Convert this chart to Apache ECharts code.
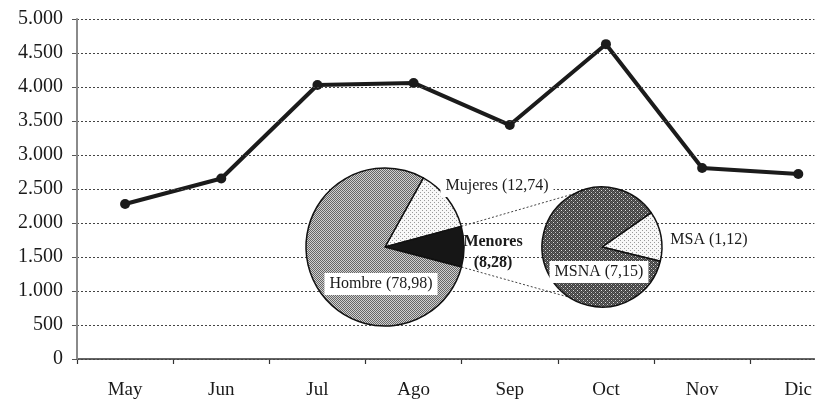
<!DOCTYPE html>
<html><head><meta charset="utf-8">
<script src="https://cdn.jsdelivr.net/npm/echarts@6/dist/echarts.min.js"></script>
<style>html,body{margin:0;padding:0;background:#fff}#c{width:815px;height:400px}</style>
</head><body><div id="c"></div>
<script>
// ---- data ----
const months = ['May','Jun','Jul','Ago','Sep','Oct','Nov','Dic'];
const totals = [2280, 2655, 4030, 4060, 3440, 4630, 2810, 2720];
const yMin = 0, yMax = 5000, yStep = 500;
const mainPieNames = ['Mujeres', 'Menores', 'Hombre'];
const mainPieValues = [12.74, 8.28, 78.98];
const subPieNames = ['MSA', 'MSNA'];
const subPieValues = [1.12, 7.15];

// ---- layout ----
const FONT = '"Liberation Serif", "Times New Roman", serif';
const bigC = [385, 247], bigR = 79, bigStart = 61;
const smallC = [602, 247], smallR = 60, smallStart = 35;
const plotLeft = 77, catWidth = 96.25;
const xMaxV = (815 - plotLeft) / catWidth;   // category slots; slot i spans [i, i+1]

function pattern(size, fn) {
  const cv = document.createElement('canvas');
  cv.width = size; cv.height = size;
  const ctx = cv.getContext('2d');
  fn(ctx, size);
  return { image: cv, repeat: 'repeat' };
}
function px(ctx, x, y, c) { ctx.fillStyle = c; ctx.fillRect(x, y, 1, 1); }

const patHombre = pattern(4, (ctx, s) => {
  ctx.fillStyle = '#d0d0d0'; ctx.fillRect(0, 0, s, s);
  for (let y = 0; y < s; y++) for (let x = 0; x < s; x++)
    if ((x + y) % 2 === 0) px(ctx, x, y, '#666');
});
const patLight = pattern(4, (ctx, s) => {
  ctx.fillStyle = '#f8f8f8'; ctx.fillRect(0, 0, s, s);
  px(ctx, 0, 0, '#9a9a9a'); px(ctx, 2, 2, '#9a9a9a');
});
const patDark = pattern(4, (ctx, s) => {
  ctx.fillStyle = '#666'; ctx.fillRect(0, 0, s, s);
  for (let y = 0; y < s; y++) for (let x = 0; x < s; x++)
    if ((x + y) % 2 === 0) px(ctx, x, y, '#3c3c3c');
  px(ctx, 1, 2, '#e0e0e0'); px(ctx, 3, 0, '#c8c8c8');
});
const patBlack = '#161616';

function fmtNum(v) {
  return v >= 1000 ? Math.floor(v / 1000) + '.' + String(v % 1000).padStart(3, '0') : String(v);
}
function fmtPct(v) { return v.toFixed(2).replace('.', ','); }

const mainFills = [patLight, patBlack, patHombre];
const subFills = [patLight, patDark];

// label anchor offsets from each pie centre
const mainLabelOff = [[112, -61], [108, 5], [-4, 37]];
const subLabelOff = [[107, -7], [-3, 25]];

const baseLabel = {
  show: true, fontFamily: FONT, fontSize: 16, color: '#1a1a1a',
  backgroundColor: '#fff', padding: [3, 5]
};

const mainData = mainPieNames.map((n, i) => ({
  name: n, value: mainPieValues[i],
  itemStyle: { color: mainFills[i] },
  label: n === 'Menores'
    ? Object.assign({}, baseLabel, { backgroundColor: 'transparent', fontWeight: 'bold', fontSize: 16, lineHeight: 21, padding: 0,
        formatter: p => p.name + '\n(' + fmtPct(p.value) + ')' })
    : Object.assign({}, baseLabel, { formatter: p => p.name + ' (' + fmtPct(p.value) + ')' })
}));
const subData = subPieNames.map((n, i) => ({
  name: n, value: subPieValues[i],
  itemStyle: { color: subFills[i] },
  label: Object.assign({}, baseLabel, { formatter: p => p.name + ' (' + fmtPct(p.value) + ')' })
}));

// connector lines from the "Menores" slice edges to the sub pie
const totMain = mainPieValues.reduce((a, b) => a + b, 0);
const aTop = bigStart - mainPieValues[0] / totMain * 360;
const aBot = aTop - mainPieValues[1] / totMain * 360;
function pt(c, r, deg) { const a = deg * Math.PI / 180; return [c[0] + r * Math.cos(a), c[1] - r * Math.sin(a)]; }
const p1 = pt(bigC, bigR, aTop), p2 = pt(smallC, smallR, 117);
const p3 = pt(bigC, bigR, aBot), p4 = pt(smallC, smallR, 237);

const tickVals = months.map((m, i) => i);
const labelVals = months.map((m, i) => i + 0.5);

const chart = echarts.init(document.getElementById('c'), null, { renderer: 'canvas' });
chart.setOption({
  animation: false,
  backgroundColor: '#fff',
  grid: { left: plotLeft, top: 19, bottom: 41, right: 0 },
  xAxis: {
    type: 'value', min: 0, max: xMaxV,
    axisLine: { lineStyle: { color: '#333', width: 1.5 } },
    axisTick: { show: true, inside: false, length: 5, customValues: tickVals, lineStyle: { color: '#333', width: 1.2 } },
    axisLabel: { fontFamily: FONT, fontSize: 19, color: '#1a1a1a', margin: 22, customValues: labelVals,
      formatter: v => months[Math.floor(v)] || '' },
    splitLine: { show: false }
  },
  yAxis: {
    type: 'value', min: yMin, max: yMax, interval: yStep, z: 3,
    axisLine: { show: true, lineStyle: { color: '#888', width: 2 } },
    axisTick: { show: true, length: 5, lineStyle: { color: '#555' } },
    axisLabel: { fontFamily: FONT, fontSize: 20, color: '#1a1a1a', margin: 14, formatter: fmtNum },
    splitLine: { show: true, lineStyle: { color: '#444', type: [2, 2], width: 1 } }
  },
  series: [
    {
      type: 'line', data: totals.map((v, i) => [i + 0.5, v]), z: 2,
      lineStyle: { color: '#1b1b1b', width: 4 },
      itemStyle: { color: '#1b1b1b' },
      symbol: 'circle', symbolSize: 10, showSymbol: true
    },
    {
      type: 'pie', center: bigC, radius: bigR, startAngle: bigStart, clockwise: true,
      z: 5, silent: true, data: mainData,
      itemStyle: { borderColor: '#111', borderWidth: 1.5 },
      labelLine: { show: false },
      labelLayout: p => {
        const o = mainLabelOff[p.dataIndex];
        return { x: bigC[0] + o[0], y: bigC[1] + o[1], align: 'center', verticalAlign: 'middle' };
      }
    },
    {
      type: 'pie', center: smallC, radius: smallR, startAngle: smallStart, clockwise: true,
      z: 5, silent: true, data: subData,
      itemStyle: { borderColor: '#111', borderWidth: 1.5 },
      labelLine: { show: false },
      labelLayout: p => {
        const o = subLabelOff[p.dataIndex];
        return { x: smallC[0] + o[0], y: smallC[1] + o[1], align: 'center', verticalAlign: 'middle' };
      }
    }
  ],
  graphic: [
    { type: 'line', z: 4, shape: { x1: p1[0], y1: p1[1], x2: p2[0], y2: p2[1] }, style: { stroke: '#444', lineWidth: 1, lineDash: [2, 2] } },
    { type: 'line', z: 4, shape: { x1: p3[0], y1: p3[1], x2: p4[0], y2: p4[1] }, style: { stroke: '#444', lineWidth: 1, lineDash: [2, 2] } }
  ]
});

// vertical value-axis line, placed through the chart's own coordinate conversion
const yTop = chart.convertToPixel({ gridIndex: 0 }, [0, yMax]);
const yBot = chart.convertToPixel({ gridIndex: 0 }, [0, yMin]);
chart.setOption({
  graphic: [
    { type: 'line', z: 4, shape: { x1: p1[0], y1: p1[1], x2: p2[0], y2: p2[1] }, style: { stroke: '#444', lineWidth: 1, lineDash: [2, 2] } },
    { type: 'line', z: 4, shape: { x1: p3[0], y1: p3[1], x2: p4[0], y2: p4[1] }, style: { stroke: '#444', lineWidth: 1, lineDash: [2, 2] } },
    { type: 'line', z: 6, shape: { x1: yTop[0], y1: yTop[1], x2: yBot[0], y2: yBot[1] }, style: { stroke: '#8a8a8a', lineWidth: 2 } }
  ]
});
</script>
</body></html>
